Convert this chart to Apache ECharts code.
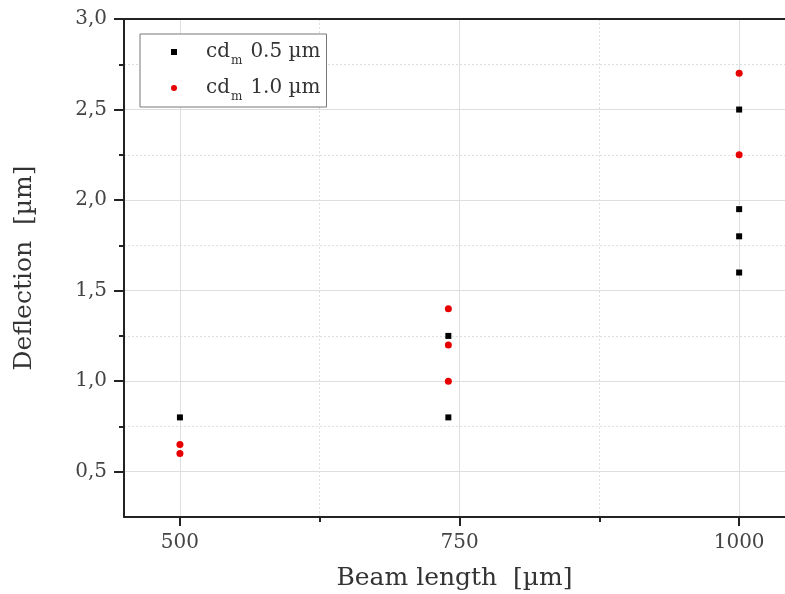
<!DOCTYPE html>
<html>
<head>
<meta charset="utf-8">
<script src="https://cdn.jsdelivr.net/npm/echarts@6/dist/echarts.min.js"></script>
<style>
html,body{margin:0;padding:0;background:#fff;}
#chart{width:785px;height:594px;}
</style>
</head>
<body>
<div id="chart"></div>
<script>
// ---- data ----
var seriesNames = ['0.5 µm', '1.0 µm'];
var smallX = [500, 740, 740, 1000, 1000, 1000, 1000];
var smallY = [0.80, 1.25, 0.80, 2.50, 1.95, 1.80, 1.60];
var largeX = [500, 500, 740, 740, 740, 1000, 1000];
var largeY = [0.65, 0.60, 1.40, 1.20, 1.00, 2.70, 2.25];
var xMajorTicks = [500, 750, 1000];
var xMinorTicks = [625, 875];
var yMajorTicks = [0.5, 1.0, 1.5, 2.0, 2.5, 3.0];
var yMinorTicks = [0.75, 1.25, 1.75, 2.25, 2.75];
var xTitle = 'Beam length  [µm]';
var yTitle = 'Deflection  [µm]';

function pairs(xs, ys) { return xs.map(function (x, i) { return [x, ys[i]]; }); }

var FONT = 'DejaVu Serif';
var AXIS = '#222';
var GRID = '#dedede';
var XMIN = 450, XMAX = 1041, YMIN = 0.25, YMAX = 3.0;

var chart = echarts.init(document.getElementById('chart'));
chart.setOption({
  animation: false,
  backgroundColor: '#fff',
  grid: { left: 124, top: 19, right: 0, bottom: 77, containLabel: false, outerBoundsMode: 'none' },
  legend: {
    orient: 'vertical', left: 140, top: 34,
    padding: [3, 6, 4, 31], itemGap: 6,
    itemWidth: 6, itemHeight: 6,
    borderColor: '#777', borderWidth: 1, backgroundColor: '#fff',
    data: seriesNames,
    formatter: function (n) { return '{g|}{t|cd}{s|m}{t|' + n + '}'; },
    textStyle: {
      rich: {
        g: { width: 24, height: 30, lineHeight: 30 },
        t: { fontFamily: FONT, fontSize: 20, color: '#333', lineHeight: 30, verticalAlign: 'middle' },
        s: { fontFamily: FONT, fontSize: 12, color: '#333', lineHeight: 12, verticalAlign: 'bottom', padding: [0, 8, 0, 1] }
      }
    }
  },
  xAxis: [
    {
      type: 'value', position: 'bottom', min: XMIN, max: XMAX,
      name: xTitle, nameLocation: 'middle', nameGap: 49,
      nameTextStyle: { fontFamily: FONT, fontSize: 25, color: '#333' },
      axisLine: { show: true, lineStyle: { color: AXIS, width: 2 } },
      axisTick: { show: true, inside: false, length: 9, customValues: xMajorTicks, lineStyle: { color: AXIS, width: 2 } },
      axisLabel: {
        show: true, margin: 16, customValues: xMajorTicks, fontFamily: FONT, fontSize: 20, color: '#444',
        formatter: function (v) { return String(v); }
      },
      splitLine: { show: true, lineStyle: { color: GRID, width: 1, type: 'solid' } }
    },
    {
      type: 'value', position: 'bottom', min: XMIN, max: XMAX,
      axisLine: { show: false },
      axisTick: { show: true, length: 5, customValues: xMinorTicks, lineStyle: { color: AXIS, width: 2 } },
      axisLabel: { show: false },
      splitLine: { show: true, lineStyle: { color: GRID, width: 1, type: [2, 2] } }
    },
    {
      type: 'value', position: 'top', min: XMIN, max: XMAX,
      axisLine: { show: true, lineStyle: { color: AXIS, width: 2 } },
      axisTick: { show: false }, axisLabel: { show: false }, splitLine: { show: false }
    }
  ],
  yAxis: [
    {
      type: 'value', position: 'left', min: YMIN, max: YMAX,
      name: yTitle, nameLocation: 'middle', nameGap: 87,
      nameTextStyle: { fontFamily: FONT, fontSize: 25, color: '#333' },
      axisLine: { show: true, lineStyle: { color: AXIS, width: 2 } },
      axisTick: { show: true, inside: false, length: 10, customValues: yMajorTicks, lineStyle: { color: AXIS, width: 2 } },
      axisLabel: {
        show: true, margin: 17, customValues: yMajorTicks, fontFamily: FONT, fontSize: 20, color: '#444',
        formatter: function (v) { return v.toFixed(1).replace('.', ','); }
      },
      splitLine: { show: true, lineStyle: { color: GRID, width: 1, type: 'solid' } }
    },
    {
      type: 'value', position: 'left', min: YMIN, max: YMAX,
      axisLine: { show: false },
      axisTick: { show: true, length: 5, customValues: yMinorTicks, lineStyle: { color: AXIS, width: 2 } },
      axisLabel: { show: false },
      splitLine: { show: true, lineStyle: { color: GRID, width: 1, type: [2, 2] } }
    }
  ],
  series: [
    {
      name: seriesNames[0], type: 'scatter', xAxisIndex: 0, yAxisIndex: 0,
      symbol: 'rect', symbolSize: 6, itemStyle: { color: '#000', opacity: 1 },
      data: pairs(smallX, smallY), z: 3
    },
    {
      name: seriesNames[1], type: 'scatter', xAxisIndex: 0, yAxisIndex: 0,
      symbol: 'circle', symbolSize: 7, itemStyle: { color: '#e80000', opacity: 1 },
      data: pairs(largeX, largeY), z: 3
    }
  ]
});
</script>
</body>
</html>
